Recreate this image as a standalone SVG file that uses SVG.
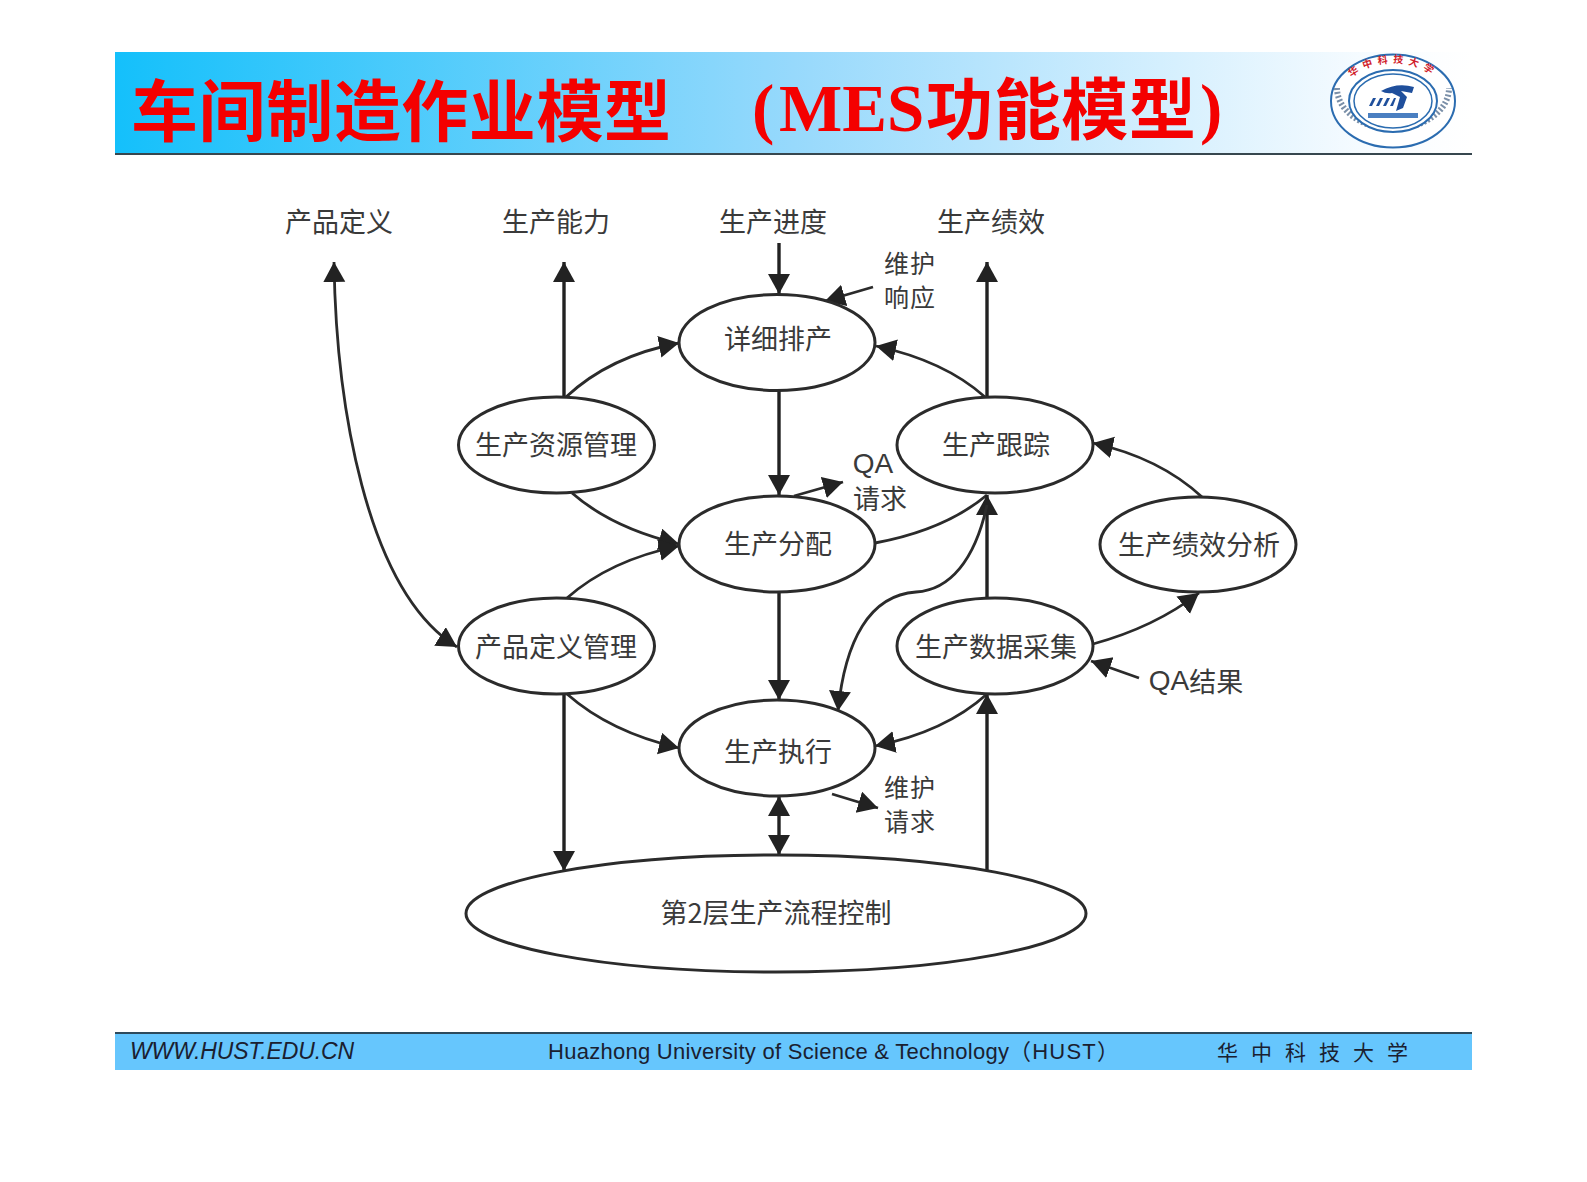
<svg xmlns="http://www.w3.org/2000/svg" width="1587" height="1182" viewBox="0 0 1587 1182">
<style>
.l{font-family:"Noto Sans CJK SC","Liberation Sans",sans-serif;font-size:27px;fill:#3a3a3a;text-anchor:middle;dominant-baseline:central}
.m{font-size:25px}
.q{font-family:"Liberation Sans",sans-serif;font-size:28px}
.n{fill:#fff;stroke:#2b2b2b;stroke-width:3}
.s{fill:none;stroke:#222;stroke-width:3.4;marker-end:url(#a)}
.c{fill:none;stroke:#2b2b2b;stroke-width:2.8;marker-end:url(#a)}
.p{fill:none;stroke:#2b2b2b;stroke-width:2.8}
.t{font-family:"Liberation Serif","Noto Sans CJK SC",serif;font-weight:700;font-size:67px;fill:#f40000}
.f{font-family:"Liberation Sans","Noto Sans CJK SC",sans-serif;font-size:22px;fill:#1a2030;dominant-baseline:central}
</style>
<defs>
<linearGradient id="g" x1="0" x2="1" y1="0" y2="0"><stop offset="0" stop-color="#14c0fb"/><stop offset=".5" stop-color="#97d9fc"/><stop offset=".93" stop-color="#f8fcff"/><stop offset="1" stop-color="#fff"/></linearGradient>
<marker id="a" markerUnits="userSpaceOnUse" markerWidth="24" markerHeight="24" refX="20" refY="11" orient="auto-start-reverse"><path d="M0,0L20,11L0,22Z" fill="#222"/></marker>
<path id="arc" d="M1338,105A55,42 0 0 1 1448,105"/>
</defs>
<rect width="1587" height="1182" fill="#fff"/>
<g id="header">
<rect x="115" y="52" width="1357" height="102" fill="url(#g)"/>
<rect x="115" y="153" width="1357" height="2" fill="#37474f"/>
<text class="t" x="131" y="136" textLength="540">车间制造作业模型</text>
<text class="t" x="752" y="131" textLength="24">(</text>
<text class="t" x="779" y="131">MES</text>
<text class="t" x="926" y="134" textLength="270">功能模型</text>
<text class="t" x="1200" y="131" textLength="24">)</text>
</g>
<g id="logo">
<ellipse cx="1393" cy="101" rx="62" ry="46.500" fill="#fff" stroke="#2b6cb0" stroke-width="2"/>
<path d="M1337,88A55,40 0 1 0 1449,88" fill="none" stroke="#7a8fa8" stroke-width="6" stroke-dasharray="2 2"/>
<ellipse cx="1393" cy="101" rx="44" ry="31" fill="#fff" stroke="#2b6cb0" stroke-width="2"/>
<ellipse cx="1393" cy="101" rx="39" ry="27" fill="none" stroke="#2b6cb0" stroke-width="1.500"/>
<text font-family="'Noto Sans CJK SC',sans-serif" font-size="10" font-weight="700" fill="#d0202a" letter-spacing="5" text-anchor="middle"><textPath href="#arc" startOffset="50%">华中科技大学</textPath></text>
<path d="M1381,91Q1397,82 1414,87L1412,93L1401,91L1407,97L1403,108L1396,111L1400,97L1392,93Q1386,94 1381,91Z" fill="#1f4f9c"/>
<path d="M1369,106L1373,98H1376L1372,106ZM1376,106L1380,98H1383L1379,106ZM1383,106L1387,98H1390L1386,106ZM1390,106L1394,98H1396L1393,106Z" fill="#1f4f9c"/>
<rect x="1368" y="113" width="50" height="5" fill="#4a7fc1"/>
</g>
<g id="connectors">
<path class="c" style="marker-start:url(#a)" d="M334,262C336,400 365,590 457,647"/>
<path class="s" d="M564,397V262"/>
<path class="s" d="M779,243V294"/>
<path class="c" d="M566,397Q610,356 679,343"/>
<path class="s" d="M779,391V495"/>
<path class="c" d="M572,493Q612,528 679,544"/>
<path class="c" d="M567,598Q610,560 679,546"/>
<path class="c" d="M873,287L825,301"/>
<path class="c" d="M985,397Q945,361 876,346"/>
<path class="s" d="M987,397V262"/>
<path class="c" d="M794,496L843,482"/>
<path class="p" d="M875,543Q945,530 987,495"/>
<path class="s" d="M987,598V495"/>
<path class="c" d="M987,505C975,560 950,590 916,592C870,595 845,640 838,711"/>
<path class="c" d="M1093,644Q1155,627 1199,593"/>
<path class="c" d="M1202,497Q1160,458 1093,443"/>
<path class="c" d="M1139,678L1091,661"/>
<path class="c" d="M987,694Q945,732 875,746"/>
<path class="s" d="M987,870V694"/>
<path class="s" d="M564,694V871"/>
<path class="c" d="M567,694Q610,732 679,748"/>
<path class="s" d="M779,592V700"/>
<path class="s" style="marker-start:url(#a)" d="M779,796V855"/>
<path class="c" d="M832,794L878,808"/>
</g>
<g id="n1"><ellipse class="n" cx="777" cy="342.500" rx="98" ry="48"/><text class="l" x="778" y="337">详细排产</text></g>
<g id="n2"><ellipse class="n" cx="556.500" cy="445" rx="98" ry="48"/><text class="l" x="556" y="443">生产资源管理</text></g>
<g id="n3"><ellipse class="n" cx="777" cy="544" rx="98" ry="48"/><text class="l" x="778" y="542">生产分配</text></g>
<g id="n4"><ellipse class="n" cx="995" cy="445" rx="98" ry="48"/><text class="l" x="996" y="443">生产跟踪</text></g>
<g id="n5"><ellipse class="n" cx="1198" cy="544.500" rx="98" ry="47.500"/><text class="l" x="1199" y="543">生产绩效分析</text></g>
<g id="n6"><ellipse class="n" cx="556.500" cy="646" rx="98" ry="48"/><text class="l" x="556" y="645">产品定义管理</text></g>
<g id="n7"><ellipse class="n" cx="995" cy="646" rx="98" ry="48"/><text class="l" x="996" y="645">生产数据采集</text></g>
<g id="n8"><ellipse class="n" cx="777" cy="748" rx="98" ry="48"/><text class="l" x="778" y="750">生产执行</text></g>
<g id="n9"><ellipse class="n" cx="776" cy="913.500" rx="310" ry="58.500"/><text class="l" x="776" y="911">第2层生产流程控制</text></g>
<g id="labels">
<text class="l" x="339" y="220">产品定义</text>
<text class="l" x="556" y="220">生产能力</text>
<text class="l" x="773" y="220">生产进度</text>
<text class="l" x="991" y="220">生产绩效</text>
<text class="l m" x="910" y="262" letter-spacing="1">维护</text>
<text class="l m" x="910" y="296" letter-spacing="1">响应</text>
<text class="l q" x="873" y="463">QA</text>
<text class="l" x="880" y="497">请求</text>
<text class="l" x="1196" y="680"><tspan class="q">QA</tspan>结果</text>
<text class="l m" x="910" y="786" letter-spacing="1">维护</text>
<text class="l m" x="910" y="820" letter-spacing="1">请求</text>
</g>
<g id="footer">
<rect x="115" y="1033" width="1357" height="37" fill="#66c6fd"/>
<rect x="115" y="1032" width="1357" height="2" fill="#2d4a5c"/>
<text class="f" x="130" y="1051" font-style="italic" textLength="224" style="font-size:23px">WWW.HUST.EDU.CN</text>
<text class="f" x="548" y="1051" textLength="461">Huazhong University of Science &amp; Technology</text>
<text class="f" x="1009" y="1051" textLength="110">（HUST）</text>
<text class="f" x="1217" y="1052" style="font-size:21px" letter-spacing="13">华中科技大学</text>
</g>
</svg>
